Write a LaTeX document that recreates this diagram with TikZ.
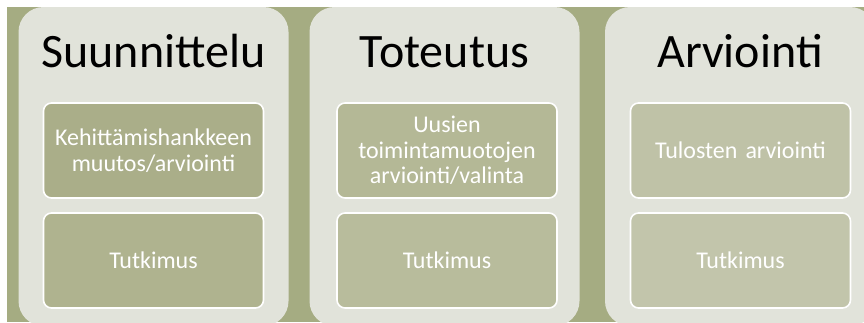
\documentclass[tikz,border=0pt]{standalone}
\usepackage{fontspec}
\setmainfont{Carlito}
\usetikzlibrary{positioning}
\definecolor{olivebg}{RGB}{165,172,130}
\definecolor{panelgray}{RGB}{225,227,218}
\definecolor{stepone}{RGB}{170,174,137}
\definecolor{steptwo}{RGB}{175,179,143}
\definecolor{stepthree}{RGB}{180,184,150}
\definecolor{stepfour}{RGB}{184,188,156}
\definecolor{stepfive}{RGB}{191,194,167}
\definecolor{stepsix}{RGB}{194,197,171}
\tikzset{
    % Define standard node styles
    phasepanel/.style={
        rectangle, draw=none, fill=panelgray,
        minimum width=270pt, minimum height=319pt,
        rounded corners=25pt, inner sep=0pt
    },
    phasetitle/.style={
        anchor=base, inner sep=0pt,
        font=\fontsize{48}{56}\selectfont, text=black
    },
    taskbox/.style={
        rectangle, draw=white, line width=1.6pt,
        minimum width=220pt, minimum height=95pt,
        text width=214pt, align=center, text=white,
        rounded corners=8pt, inner sep=0pt,
        font=\fontsize{24}{25.5}\selectfont
    }
}
\begin{document}
\begin{tikzpicture}[x=1pt, y=-1pt]

\useasboundingbox (0,0) rectangle (864,322);

% Background band
\fill[white] (0,0) rectangle (864,322);
\fill[olivebg] (7,7) rectangle (864,322);

% Phase panels
\begin{scope}
\clip (7,7) rectangle (864,322);
\node[phasepanel] (plan) at (153.5,166.5) {};
\node[phasepanel] (impl) at (444.5,166.5) {};
\node[phasepanel] (eval) at (740,166.5) {};
\end{scope}

% Titles
\node[phasetitle] (plantitle) at (153.5,67) {Suunnittelu};
\node[phasetitle] (impltitle) at (444.5,67) {Toteutus};
\node[phasetitle] (evaltitle) at (740,67) {Arviointi};

% Task boxes
\node[taskbox, fill=stepone] (plantask) at (153.5,150.5) {Kehittämishankkeen\\muutos/arviointi};
\node[taskbox, fill=steptwo] (planres) at (153.5,260.5) {Tutkimus};

\node[taskbox, fill=stepthree] (impltask) at (447,150.5) {Uusien\\toimintamuotojen\\arviointi/valinta};
\node[taskbox, fill=stepfour] (implres) at (447,260.5) {Tutkimus};

\node[taskbox, fill=stepfive] (evaltask) at (740.5,150.5) {Tulosten arviointi};
\node[taskbox, fill=stepsix] (evalres) at (740.5,260.5) {Tutkimus};

\end{tikzpicture}
\end{document}
